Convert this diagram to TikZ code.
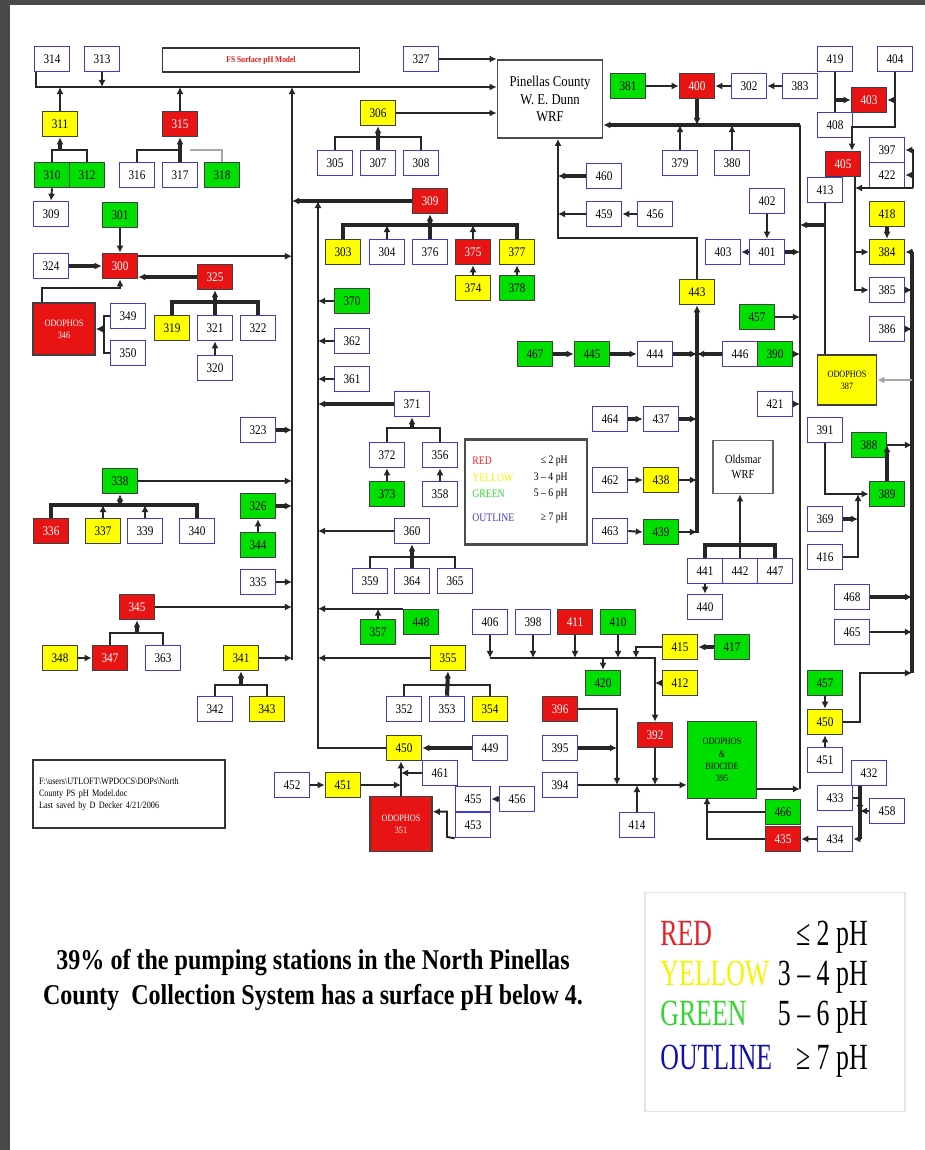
\documentclass[tikz,border=0pt]{standalone}
\usepackage{fontspec}
\setmainfont{Liberation Serif}
\newfontfamily\condfont[FakeStretch=0.85]{Liberation Serif}
\newfontfamily\legfont[FakeStretch=0.7]{Liberation Serif}
\newfontfamily\capfont[FakeStretch=0.84]{Liberation Serif}
\usepackage{tikz}
\usetikzlibrary{arrows.meta}

\definecolor{pred}{HTML}{E81414}
\definecolor{pyel}{HTML}{FFFF00}
\definecolor{pgrn}{HTML}{00E000}
\definecolor{outblue}{HTML}{3C3CD2}
\definecolor{framegray}{HTML}{4A4A4A}
\definecolor{lred}{HTML}{E8202A}
\definecolor{lyel}{HTML}{F4F400}
\definecolor{lgrn}{HTML}{30D830}
\definecolor{lblue}{HTML}{1010B0}
\definecolor{legedge}{HTML}{D8ECD8}

\tikzset{
  box/.style={draw, minimum width=0.7cm, minimum height=0.5cm, inner sep=0pt,
    line width=0.9pt, font=\condfont\fontsize{7.5}{8.5}\selectfont},
  ob/.style={box, draw=outblue, fill=white},
  rb/.style={box, draw=black!75, fill=pred, text=white},
  yb/.style={box, draw=black!75, fill=pyel},
  gb/.style={box, draw=black!75, fill=pgrn},
  odo/.style={draw=black!75, line width=0.9pt, inner sep=1pt, align=center,
    font=\condfont\fontsize{5.5}{7}\selectfont},
  wrfbox/.style={draw=black!70, line width=1pt, fill=white, align=center,
    minimum width=2.1cm, minimum height=1.56cm,
    font=\condfont\fontsize{8.5}{10}\selectfont},
  wire/.style={line width=1.1pt, draw=black!85},
  fat/.style={line width=2.3pt, draw=black!85},
  grayw/.style={line width=1.6pt, draw=black!35},
  lg/.style={inner sep=0pt, font=\legfont\fontsize{21}{24}\selectfont},
  sl/.style={inner sep=0pt, font=\condfont\fontsize{6.5}{7.5}\selectfont},
}

\begin{document}
\begin{tikzpicture}[x=0.02cm, y=-0.02cm, >={Latex[length=4pt,width=4pt]}]
  \useasboundingbox (0,0) rectangle (925,1150);
  \fill[white] (0,0) rectangle (925,1150);
  \fill[framegray] (0,0) rectangle (10,1150);
  \fill[framegray] (0,0) rectangle (925,5);

  % top row
  \node[ob] (n314) at (52,59) {314};
  \node[ob] (n313) at (102,59) {313};
  \node[draw=black!80, line width=1pt, minimum width=3.94cm, minimum height=0.48cm,
    text=pred, font=\condfont\bfseries\fontsize{5}{6}\selectfont] (model) at (261,60) {FS Surface pH Model};
  \node[ob] (n327) at (421,59) {327};
  \node[wrfbox] (wrf) at (550,99) {Pinellas County\\W. E. Dunn\\WRF};
  \node[gb] (n381) at (628,86) {381};
  \node[rb] (n400) at (697,86) {400};
  \node[ob] (n302) at (749,86) {302};
  \node[ob] (n383) at (800,86) {383};
  \node[ob] (n419) at (835,59) {419};
  \node[ob] (n404) at (895,59) {404};
  \node[rb] (n403r) at (869,100) {403};
  \node[ob] (n408) at (835,125) {408};

  % left side
  \node[yb] (n311) at (60,124) {311};
  \node[rb] (n315) at (180,124) {315};
  \node[gb] (n310) at (52,175) {310};
  \node[gb] (n312) at (87,175) {312};
  \node[ob] (n316) at (137,175) {316};
  \node[ob] (n317) at (180,175) {317};
  \node[gb] (n318) at (222,175) {318};
  \node[ob] (n309) at (51,214) {309};
  \node[gb] (n301) at (120,215) {301};
  \node[ob] (n324) at (51,266) {324};
  \node[rb] (n300) at (120,266) {300};
  \node[rb] (n325) at (215,277) {325};
  \node[odo, fill=pred, text=white, minimum width=1.24cm, minimum height=1.04cm] (n346) at (64,329) {ODOPHOS\\346};
  \node[ob] (n349) at (128,316) {349};
  \node[ob] (n350) at (128,353) {350};
  \node[yb] (n319) at (172,328) {319};
  \node[ob] (n321) at (215,328) {321};
  \node[ob] (n322) at (258,328) {322};
  \node[ob] (n320) at (215,368) {320};
  \node[ob] (n323) at (258,430) {323};
  \node[gb] (n338) at (120,481) {338};
  \node[rb] (n336) at (51,531) {336};
  \node[yb] (n337) at (103,531) {337};
  \node[ob] (n339) at (145,531) {339};
  \node[ob] (n340) at (197,531) {340};
  \node[gb] (n326) at (258,506) {326};
  \node[gb] (n344) at (258,545) {344};
  \node[ob] (n335) at (258,582) {335};
  \node[rb] (n345) at (137,607) {345};
  \node[yb] (n348) at (60,658) {348};
  \node[rb] (n347) at (110,658) {347};
  \node[ob] (n363) at (163,658) {363};
  \node[yb] (n341) at (241,658) {341};
  \node[ob] (n342) at (215,709) {342};
  \node[yb] (n343) at (267,709) {343};

  % centre
  \node[yb] (n306) at (378,113) {306};
  \node[ob] (n305) at (335,163) {305};
  \node[ob] (n307) at (378,163) {307};
  \node[ob] (n308) at (421,163) {308};
  \node[rb] (n309r) at (430,201) {309};
  \node[yb] (n303) at (343,252) {303};
  \node[ob] (n304) at (387,252) {304};
  \node[ob] (n376) at (430,252) {376};
  \node[rb] (n375) at (473,252) {375};
  \node[yb] (n377) at (517,252) {377};
  \node[yb] (n374) at (473,288) {374};
  \node[gb] (n378) at (517,288) {378};
  \node[gb] (n370) at (352,301) {370};
  \node[ob] (n362) at (352,341) {362};
  \node[ob] (n361) at (352,379) {361};
  \node[ob] (n371) at (412,404) {371};
  \node[ob] (n372) at (387,455) {372};
  \node[ob] (n356) at (440,455) {356};
  \node[gb] (n373) at (387,494) {373};
  \node[ob] (n358) at (440,494) {358};
  \node[ob] (n360) at (412,531) {360};
  \node[ob] (n359) at (370,581) {359};
  \node[ob] (n364) at (412,581) {364};
  \node[ob] (n365) at (455,581) {365};
  \node[gb] (n448) at (421,622) {448};
  \node[gb] (n357) at (378,632) {357};
  \node[yb] (n355) at (448,658) {355};
  \node[ob] (n352) at (404,709) {352};
  \node[ob] (n353) at (447,709) {353};
  \node[yb] (n354) at (490,709) {354};
  \node[yb] (n450) at (404,748) {450};
  \node[ob] (n449) at (490,748) {449};
  \node[ob] (n461) at (440,773) {461};
  \node[ob] (n452) at (292,785) {452};
  \node[yb] (n451) at (343,785) {451};
  \node[odo, fill=pred, text=white, minimum width=1.24cm, minimum height=1.1cm] (n351) at (401,824) {ODOPHOS\\351};
  \node[ob] (n455) at (473,799) {455};
  \node[ob] (n453) at (473,825) {453};
  \node[ob] (n456b) at (517,799) {456};

  % small legend
  \node[draw=black!70, line width=1.2pt, minimum width=2.44cm, minimum height=2.1cm] (leg) at (526,492) {};
  \node[sl, anchor=west, text=lred] (lgr) at (472,461) {RED};
  \node[sl, anchor=east] (lgrv) at (568,461) {≤ 2 pH};
  \node[sl, anchor=west, text=lyel] (lgy) at (472,478) {YELLOW};
  \node[sl, anchor=east] (lgyv) at (568,478) {3 – 4 pH};
  \node[sl, anchor=west, text=lgrn] (lgg) at (472,494) {GREEN};
  \node[sl, anchor=east] (lggv) at (568,494) {5 – 6 pH};
  \node[sl, anchor=west, text=outblue] (lgo) at (472,518) {OUTLINE};
  \node[sl, anchor=east] (lgov) at (568,518) {≥ 7 pH};

  % right middle
  \node[ob] (n460) at (604,176) {460};
  \node[ob] (n459) at (604,214) {459};
  \node[ob] (n456) at (655,214) {456};
  \node[ob] (n379) at (680,163) {379};
  \node[ob] (n380) at (732,163) {380};
  \node[ob] (n402) at (767,201) {402};
  \node[ob] (n401) at (767,252) {401};
  \node[ob] (n403) at (723,252) {403};
  \node[yb] (n443) at (697,292) {443};
  \node[gb] (n457) at (757,317) {457};
  \node[gb] (n467) at (535,354) {467};
  \node[gb] (n445) at (592,354) {445};
  \node[ob] (n444) at (655,354) {444};
  \node[ob] (n446) at (740,354) {446};
  \node[gb] (n390) at (775,354) {390};
  \node[ob] (n421) at (775,404) {421};
  \node[ob] (n464) at (610,419) {464};
  \node[ob] (n437) at (661,419) {437};
  \node[ob] (n462) at (610,480) {462};
  \node[yb] (n438) at (661,480) {438};
  \node[ob] (n463) at (610,531) {463};
  \node[gb] (n439) at (661,532) {439};
  \node[draw=black!60, line width=1pt, fill=white, align=center, minimum width=1.2cm,
    minimum height=1.06cm, font=\condfont\fontsize{7}{8.5}\selectfont] (old) at (743,467) {Oldsmar\\WRF};
  \node[ob] (n441) at (705,571) {441};
  \node[ob] (n442) at (740,571) {442};
  \node[ob] (n447) at (775,571) {447};
  \node[ob] (n440) at (705,607) {440};
  \node[ob] (n406) at (490,622) {406};
  \node[ob] (n398) at (533,622) {398};
  \node[rb] (n411) at (575,622) {411};
  \node[gb] (n410) at (618,622) {410};
  \node[yb] (n415) at (680,647) {415};
  \node[gb] (n417) at (732,647) {417};
  \node[gb] (n420) at (603,683) {420};
  \node[yb] (n412) at (680,683) {412};
  \node[rb] (n396) at (560,709) {396};
  \node[rb] (n392) at (655,735) {392};
  \node[ob] (n395b) at (560,748) {395};
  \node[ob] (n394) at (560,785) {394};
  \node[odo, fill=pgrn, minimum width=1.38cm, minimum height=1.54cm] (n395) at (722,760) {ODOPHOS\\\&\\BIOCIDE\\395};
  \node[ob] (n414) at (637,825) {414};
  \node[gb] (n466) at (783,812) {466};
  \node[rb] (n435) at (783,839) {435};

  % far right
  \node[rb] (n405) at (843,164) {405};
  \node[ob] (n413) at (825,190) {413};
  \node[ob] (n397) at (887,150) {397};
  \node[ob] (n422) at (887,175) {422};
  \node[yb] (n418) at (887,214) {418};
  \node[yb] (n384) at (887,252) {384};
  \node[ob] (n385) at (887,290) {385};
  \node[ob] (n386) at (887,329) {386};
  \node[odo, fill=pyel, minimum width=1.18cm, minimum height=1cm] (n387) at (847,380) {ODOPHOS\\387};
  \node[ob] (n391) at (825,430) {391};
  \node[gb] (n388) at (869,445) {388};
  \node[gb] (n389) at (887,494) {389};
  \node[ob] (n369) at (825,519) {369};
  \node[ob] (n416) at (825,557) {416};
  \node[ob] (n468) at (852,597) {468};
  \node[ob] (n465) at (852,632) {465};
  \node[gb] (n457b) at (825,683) {457};
  \node[yb] (n450b) at (825,722) {450};
  \node[ob] (n451b) at (825,760) {451};
  \node[ob] (n432) at (869,773) {432};
  \node[ob] (n433) at (835,798) {433};
  \node[ob] (n458) at (887,811) {458};
  \node[ob] (n434) at (835,839) {434};

  % note
  \node[draw=black!80, line width=1.2pt, minimum width=3.84cm, minimum height=1.36cm,
    text width=3.6cm, align=left, font=\condfont\fontsize{5.5}{7}\selectfont] (note) at (129,794)
    {F:\textbackslash users\textbackslash UTLOFT\textbackslash WPDOCS\textbackslash DOPs\textbackslash North\\County PS pH Model.doc\\Last saved by D Decker 4/21/2006};

  % junction points
  \coordinate (tAtop) at (292,87);
  \coordinate (tAbot) at (292,660);
  \coordinate (tBtop) at (318,201);
  \coordinate (tC) at (558,238);
  \coordinate (tDbot) at (697,533);
  \coordinate (tEtop) at (800,125);
  \coordinate (tEbot) at (800,789);
  \coordinate (tFtop) at (912,252);
  \coordinate (tFbot) at (912,673);
  \coordinate (b311) at (60,150);
  \coordinate (b315) at (180,150);
  \coordinate (g318) at (190,150);
  \coordinate (c346) at (42,288);
  \coordinate (b346) at (104,329);
  \coordinate (b325) at (215,302);
  \coordinate (b338) at (120,505);
  \coordinate (b345) at (137,633);
  \coordinate (b341) at (241,685);
  \coordinate (b306) at (378,137);
  \coordinate (b309) at (430,225);
  \coordinate (b371) at (412,428);
  \coordinate (b360) at (412,557);
  \coordinate (b355) at (447,685);
  \coordinate (c453) at (447,837);
  \coordinate (b441) at (740,545);
  \coordinate (l658a) at (490,658);
  \coordinate (l658b) at (655,658);
  \coordinate (c415) at (636,658);
  \coordinate (c396) at (617,709);
  \coordinate (c395) at (707,797);
  \coordinate (j458) at (860,812);
  \coordinate (c450) at (860,673);
  \coordinate (j389) at (858,494);
  \coordinate (j403) at (835,100);
  \coordinate (c405) at (852,127);
  \coordinate (t405) at (855,290);
  \coordinate (b397) at (913,188);
  \coordinate (j413) at (825,225);

  % top bus into Pinellas
  \draw[wire,->] ([xshift=-9pt]n314.south) |- (wrf.west |- tAtop);
  \draw[wire,->] (n313.south) -- (n313 |- tAtop);
  \draw[wire,->] (n311.north) -- (n311 |- tAtop);
  \draw[wire,->] (n315.north) -- (n315 |- tAtop);
  \draw[wire,->] (n327.east) -- (n327 -| wrf.west);
  \draw[wire,->] (n306.east) -- (n306 -| wrf.west);

  % trunk A
  \draw[wire,->] (tAbot) -- (tAtop);
  \draw[fat,->] (n309r.west) -- (n309r.west -| tAtop);
  \draw[wire,->] ([yshift=-2pt]n300.north east) -- ([yshift=-2pt]n300.north east -| tAtop);
  \draw[fat,->] (n323.east) -- (n323 -| tAtop);
  \draw[wire,->] (n338.east) -- (n338 -| tAtop);
  \draw[fat,->] (n326.east) -- (n326 -| tAtop);
  \draw[wire,->] (n335.east) -- (n335 -| tAtop);
  \draw[wire,->] (n345.east) -- (n345 -| tAtop);
  \draw[wire,->] (n341.east) -- (n341 -| tAtop);

  % trunk B
  \draw[wire,->] (n450.west) -| (tBtop);
  \draw[wire,->] (n370.west) -- (n370 -| tBtop);
  \draw[wire,->] (n362.west) -- (n362 -| tBtop);
  \draw[wire,->] (n361.west) -- (n361 -| tBtop);
  \draw[fat,->] (n371.west) -- (n371 -| tBtop);
  \draw[wire,->] (n360.west) -- (n360 -| tBtop);
  \draw[wire,->] (n448.north west) -- (n448.north west -| tBtop);
  \draw[wire,->] (n357.north) -- (n357 |- n448.north west);
  \draw[wire,->] (n355.west) -- (n355 -| tBtop);

  % left trees
  \draw[wire] (n310.north) |- (b311) -| (n312.north);
  \draw[fat,->] (b311) -- (n311.south);
  \draw[wire,->] (n310.south) -- (n309.north);
  \draw[wire] (n316.north) |- (b315);
  \draw[fat,->] (n317.north) -- (n315.south);
  \draw[grayw] (n318.north) |- (g318);
  \draw[wire,->] (n301.south) -- (n300.north);
  \draw[fat,->] (n324.east) -- (n300.west);
  \draw[fat,->] (n325.west) -- (n325.west -| n300.east);
  \draw[wire,->] (n346.north -| c346) -- (c346) -| (n300.south);
  \draw[wire] (n349.west) -| (b346);
  \draw[wire] (n350.west) -| (b346);
  \draw[fat,->] (b346) -- (n346.east);
  \draw[fat] (n319.north) |- (b325) -| (n322.north);
  \draw[fat,->] (n321.north) -- (n325.south);
  \draw[wire,->] (n320.north) -- (n321.south);
  \draw[fat] (n336.north) |- (b338) -| (n340.north);
  \draw[wire,->] (n337.north) -- (n337 |- b338);
  \draw[wire,->] (n339.north) -- (n339 |- b338);
  \draw[fat,->] (b338) -- (n338.south);
  \draw[wire,->] (n344.north) -- (n326.south);
  \draw[wire] (n347.north) |- (b345) -| (n363.north);
  \draw[fat,->] (b345) -- (n345.south);
  \draw[wire,->] (n348.east) -- (n347.west);
  \draw[wire] (n342.north) |- (b341) -| (n343.north);
  \draw[fat,->] (b341) -- (n341.south);

  % centre trees
  \draw[wire] (n305.north) |- (b306) -| (n308.north);
  \draw[fat,->] (n307.north) -- (n306.south);
  \draw[fat] (n303.north) |- (b309) -| (n377.north);
  \draw[fat,->] (n376.north) -- (n309r.south);
  \draw[wire,->] (n304.north) -- (n304 |- b309);
  \draw[wire,->] (n375.north) -- (n375 |- b309);
  \draw[wire,->] (n374.north) -- (n375.south);
  \draw[wire,->] (n378.north) -- (n377.south);
  \draw[wire] (n372.north) |- (b371) -| (n356.north);
  \draw[fat,->] (b371) -- (n371.south);
  \draw[wire,->] (n373.north) -- (n372.south);
  \draw[wire,->] (n358.north) -- (n356.south);
  \draw[wire] (n359.north) |- (b360) -| (n365.north);
  \draw[fat,->] (n364.north) -- (n360.south);
  \draw[wire] (n352.north) |- (b355) -| (n354.north);
  \draw[fat,->] (n353.north) -- (n355.south);

  % bottom centre
  \draw[fat,->] (n449.west) -- (n450.east);
  \draw[wire,->] (n351.north) -- (n351.north |- n450.south);
  \draw[wire,->] (n461.west) -- (n461.west -| n351.north);
  \draw[wire,->] (n451.east) -- (n451.east -| n351.north);
  \draw[wire,->] (n452.east) -- (n451.west);
  \draw[fat,->] (n456b.west) -- (n455.east);
  \draw[wire,->] (n453.south west) -- (c453) |- ([yshift=7pt]n351.east);

  % Pinellas bottom line
  \draw[wire,->] (n443.north) |- (tC) -- (tC |- wrf.south);
  \draw[fat,->] (n460.west) -- (n460 -| tC);
  \draw[wire,->] (n459.west) -- (n459 -| tC);
  \draw[wire,->] (n456.west) -- (n459.east);

  % 400 row and trunk E
  \draw[wire,->] (n381.east) -- (n400.west);
  \draw[wire,->] (n302.west) -- (n400.east);
  \draw[wire,->] (n383.west) -- (n302.east);
  \draw[fat,->] (tEtop) -- (tEtop -| wrf.east);
  \draw[fat,->] (n400.south) -- (n400 |- tEtop);
  \draw[wire,->] (n379.north) -- (n379 |- tEtop);
  \draw[wire,->] (n380.north) -- (n380 |- tEtop);
  \draw[wire] (tEbot) -- (tEtop);
  \draw[wire,->] (n401.west) -- (n403.east);
  \draw[wire,->] (n402.south) -- (n401.north);
  \draw[fat,->] (n401.east) -- (n401 -| tEtop);
  \draw[wire,->] (n457.east) -- (n457 -| tEtop);
  \draw[wire,->] (n390.east) -- (n390 -| tEtop);
  \draw[wire,->] (n421.east) -- (n421 -| tEtop);
  \draw[wire] (n413.south) -- (n413.south |- n387.north);
  \draw[fat,->] (j413) -- (j413 -| tEtop);
  \draw[wire,->] (n395.east |- tEbot) -- (tEbot);

  % trunk D
  \draw[fat,->] (tDbot) -- (n443.south);
  \draw[fat,->] (n467.east) -- (n445.west);
  \draw[fat,->] (n445.east) -- (n444.west);
  \draw[fat,->] (n444.east) -- (n444 -| tDbot);
  \draw[fat,->] (n446.west) -- (n446 -| tDbot);
  \draw[fat,->] (n464.east) -- (n437.west);
  \draw[fat,->] (n437.east) -- (n437 -| tDbot);
  \draw[wire,->] (n462.east) -- (n438.west);
  \draw[wire,->] (n438.east) -- (n438 -| tDbot);
  \draw[wire,->] (n463.east) -- (n439.west);
  \draw[wire,->] (n439.east) -- (n439 -| tDbot);
  \draw[fat] (n441.north) |- (b441) -| (n447.north);
  \draw[wire,->] (n442.north) -- (n442.north |- old.south);
  \draw[wire,->] (n441.south) -- (n440.north);

  % line to 392 and 395
  \draw[wire,->] (l658a) -- (l658b) -- (n392.north);
  \draw[wire,->] (n406.south) -- (n406 |- l658a);
  \draw[wire,->] (n398.south) -- (n398 |- l658a);
  \draw[wire,->] (n411.south) -- (n411 |- l658a);
  \draw[wire,->] (n410.south) -- (n410 |- l658a);
  \draw[wire,->] (n420.north |- l658a) -- (n420.north);
  \draw[wire,->] (n415.west) -| (c415);
  \draw[fat,->] (n417.west) -- (n415.east);
  \draw[wire,->] (n412.west) -- (n412.west -| l658b);
  \draw[wire,->] (n394.east) -- (n394.east -| n395.west);
  \draw[wire,->] (n392.south) -- (n392.south |- n394.east);
  \draw[wire,->] (n414.north) -- (n414.north |- n394.east);
  \draw[wire,->] (n396.east) -- (c396) -- (c396 |- n394.east);
  \draw[fat,->] (n395b.east) -- (n395b -| c396);
  \draw[wire,->] (n435.west) -| (c395);
  \draw[wire] (n466.west) -- (n466.west -| c395);

  % far right
  \draw[wire] (n419.south) -- (j403);
  \draw[wire] (n408.north) -- (j403);
  \draw[fat,->] (j403) -- (n403r.west);
  \draw[wire,->] (n404.south) |- (c405) -- (c405 |- n405.north);
  \draw[wire,->] (n404.south |- n403r.east) -- (n403r.east);
  \draw[wire,<-] (n397.east) -| (b397);
  \draw[wire,<-] (n422.east) -- (n422 -| b397);
  \draw[wire,->] (b397) -- (b397 -| t405);
  \draw[wire,->] (n405.south -| t405) -- (t405) -- (n385.west);
  \draw[wire,->] (n384.west -| t405) -- (n384.west);
  \draw[fat,->] (n418.south) -- (n384.north);

  % trunk F
  \draw[fat] (tFbot) -- (tFtop);
  \draw[fat,->] (tFtop) -- (n384.east);
  \draw[wire,->] (n385.east) -- (n385 -| tFtop);
  \draw[wire,->] (n386.east) -- (n386 -| tFtop);
  \draw[grayw,->] (n387 -| tFtop) -- (n387.east);
  \draw[wire,->] (n388.east) -- (n388 -| tFtop);
  \draw[fat,->] (n389.north) -- (n389 |- n388);
  \draw[wire,->] (n391.south) |- (n389.west);
  \draw[fat,->] (n369.east) -- (n369 -| j389);
  \draw[wire,->] (n416.east) -| (j389);
  \draw[fat,->] (n468.east) -- (n468 -| tFtop);
  \draw[wire,->] (n465.east) -- (n465 -| tFtop);
  \draw[wire,->] (n450b.east) -| (c450) -- (tFbot);
  \draw[wire,->] (n457b.south) -- (n450b.north);
  \draw[wire,->] (n451b.north) -- (n450b.south);

  % bottom right cluster
  \draw[fat] (n432.south -| j458) -- (n434.east -| j458);
  \draw[wire,->] (n433.east) -| (j458);
  \draw[wire,->] (n458.west) -- (n458.west -| j458);
  \draw[wire,->] (n434.east -| j458) -- (n434.east);
  \draw[wire,->] (n434.west) -- (n435.east);

  % caption
  \node[align=center, font=\capfont\bfseries\fontsize{16.3}{20}\selectfont] (cap) at (313,980)
    {39\% of the pumping stations in the North Pinellas\\County\ \ Collection System has a surface pH below 4.};

  % big legend
  \node[draw=legedge, line width=1pt, minimum width=5.2cm, minimum height=4.38cm] (bigleg) at (775,1002) {};
  \node[lg, anchor=base west, text=lred] (blr) at (660,945) {RED};
  \node[lg, anchor=base east] (blrv) at (868,945) {≤ 2 pH};
  \node[lg, anchor=base west, text=lyel] (bly) at (660,985) {YELLOW};
  \node[lg, anchor=base east] (blyv) at (868,985) {3 – 4 pH};
  \node[lg, anchor=base west, text=lgrn] (blg) at (660,1025) {GREEN};
  \node[lg, anchor=base east] (blgv) at (868,1025) {5 – 6 pH};
  \node[lg, anchor=base west, text=lblue] (blo) at (660,1069) {OUTLINE};
  \node[lg, anchor=base east] (blov) at (868,1069) {≥ 7 pH};
\end{tikzpicture}
\end{document}
